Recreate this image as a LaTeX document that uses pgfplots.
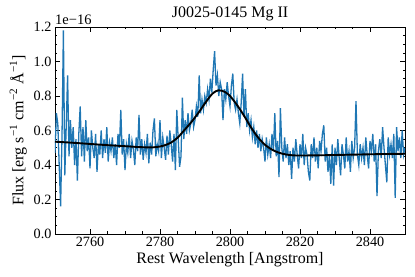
\documentclass[border=0pt]{standalone}
\usepackage{fontspec}
\setmainfont{Liberation Serif}
\usepackage{pgfplots}
\pgfplotsset{compat=1.18}
\definecolor{mplblue}{HTML}{1F77B4}
\begin{document}
\begin{tikzpicture}
\begin{axis}[
  scale only axis, width=350pt, height=207pt,
  xmin=2750, xmax=2850, ymin=0, ymax=1.2,
  xtick={2760,2780,2800,2820,2840}, minor x tick num=3,
  ytick={0,0.2,0.4,0.6,0.8,1.0,1.2}, minor y tick num=3,
  tick align=inside, tick pos=both,
  major tick length=5pt, minor tick length=2.5pt,
  every tick/.style={black, line width=0.7pt},
  axis line style={line width=0.8pt},
  /pgf/number format/assume math mode=true,
  xticklabel style={/pgf/number format/1000 sep={}, font=\fontsize{14.2}{16}\selectfont},
  yticklabel style={/pgf/number format/fixed, /pgf/number format/fixed zerofill, /pgf/number format/precision=1, font=\fontsize{14.2}{16}\selectfont},
  title={J0025-0145 Mg II},
  title style={font=\fontsize{16}{18}\selectfont, yshift=-3pt},
  xlabel={Rest Wavelength [Angstrom]},
  ylabel={Flux [erg s\textsuperscript{−1} cm\textsuperscript{−2} Å\textsuperscript{−1}]},
  label style={font=\fontsize{16}{18}\selectfont},
  xlabel style={yshift=2pt},
  clip mode=individual,
]
\addplot[mplblue, line width=1.3pt] coordinates {
(2750.0,0.47)(2750.4,0.70)(2750.8,0.64)(2751.2,0.40)(2751.6,0.16)(2752.0,0.56)(2752.4,1.18)(2752.8,0.34)(2753.2,0.62)(2753.6,0.92)
(2754.0,0.45)(2754.4,0.66)(2754.8,0.50)(2755.2,0.62)(2755.6,0.40)(2756.0,0.55)(2756.4,0.31)(2756.8,0.58)(2757.2,0.74)(2757.6,0.45)
(2758.0,0.62)(2758.4,0.42)(2758.8,0.66)(2759.2,0.48)(2759.6,0.56)(2760.0,0.38)(2760.4,0.60)(2760.8,0.50)(2761.2,0.44)(2761.6,0.58)
(2762.0,0.36)(2762.4,0.52)(2762.8,0.46)(2763.2,0.60)(2763.6,0.44)(2764.0,0.55)(2764.4,0.47)(2764.8,0.62)(2765.2,0.42)(2765.6,0.53)
(2766.0,0.48)(2766.4,0.56)(2766.8,0.44)(2767.2,0.52)(2767.6,0.40)(2768.0,0.58)(2768.4,0.50)(2768.8,0.72)(2769.2,0.46)(2769.6,0.55)
(2770.0,0.37)(2770.4,0.52)(2770.8,0.47)(2771.2,0.58)(2771.6,0.44)(2772.0,0.54)(2772.4,0.49)(2772.8,0.40)(2773.2,0.56)(2773.6,0.48)
(2774.0,0.69)(2774.4,0.46)(2774.8,0.55)(2775.2,0.43)(2775.6,0.52)(2776.0,0.47)(2776.4,0.58)(2776.8,0.41)(2777.2,0.53)(2777.6,0.46)
(2778.0,0.60)(2778.4,0.67)(2778.8,0.45)(2779.2,0.52)(2779.6,0.48)(2780.0,0.66)(2780.4,0.44)(2780.8,0.56)(2781.2,0.50)(2781.6,0.43)
(2782.0,0.57)(2782.4,0.46)(2782.8,0.60)(2783.2,0.52)(2783.6,0.42)(2784.0,0.58)(2784.4,0.37)(2784.8,0.72)(2785.2,0.55)(2785.6,0.39)
(2786.0,0.45)(2786.4,0.79)(2786.8,0.55)(2787.2,0.66)(2787.6,0.58)(2788.0,0.70)(2788.4,0.60)(2788.8,0.64)(2789.2,0.72)(2789.6,0.62)
(2790.0,0.66)(2790.4,0.74)(2790.8,0.68)(2791.2,0.92)(2791.6,0.70)(2792.0,0.78)(2792.4,0.72)(2792.8,0.80)(2793.2,0.76)(2793.6,0.84)
(2794.0,0.78)(2794.4,0.90)(2794.8,0.82)(2795.2,0.95)(2795.6,1.06)(2796.0,0.86)(2796.4,0.92)(2796.8,0.80)(2797.2,0.88)(2797.6,0.84)
(2798.0,0.66)(2798.4,0.84)(2798.8,0.78)(2799.2,0.88)(2799.6,0.80)(2800.0,0.74)(2800.4,0.86)(2800.8,0.93)(2801.2,0.76)(2801.6,0.72)
(2802.0,0.78)(2802.4,0.70)(2802.8,0.64)(2803.2,0.76)(2803.6,0.93)(2804.0,0.68)(2804.4,0.84)(2804.8,0.62)(2805.2,0.70)(2805.6,0.60)
(2806.0,0.66)(2806.4,0.56)(2806.8,0.62)(2807.2,0.52)(2807.6,0.60)(2808.0,0.50)(2808.4,0.58)(2808.8,0.48)(2809.2,0.55)(2809.6,0.50)
(2810.0,0.42)(2810.4,0.56)(2810.8,0.46)(2811.2,0.52)(2811.6,0.44)(2812.0,0.58)(2812.4,0.48)(2812.8,0.70)(2813.2,0.45)(2813.6,0.54)
(2814.0,0.33)(2814.4,0.73)(2814.8,0.50)(2815.2,0.42)(2815.6,0.56)(2816.0,0.44)(2816.4,0.52)(2816.8,0.40)(2817.2,0.48)(2817.6,0.32)
(2818.0,0.50)(2818.4,0.42)(2818.8,0.55)(2819.2,0.46)(2819.6,0.38)(2820.0,0.52)(2820.4,0.44)(2820.8,0.58)(2821.2,0.40)(2821.6,0.50)
(2822.0,0.46)(2822.4,0.36)(2822.8,0.31)(2823.2,0.52)(2823.6,0.44)(2824.0,0.56)(2824.4,0.42)(2824.8,0.50)(2825.2,0.38)(2825.6,0.54)
(2826.0,0.48)(2826.4,0.58)(2826.8,0.63)(2827.2,0.42)(2827.6,0.50)(2828.0,0.36)(2828.4,0.46)(2828.8,0.29)(2829.2,0.52)(2829.6,0.28)
(2830.0,0.50)(2830.4,0.40)(2830.8,0.55)(2831.2,0.44)(2831.6,0.34)(2832.0,0.52)(2832.4,0.46)(2832.8,0.38)(2833.2,0.56)(2833.6,0.42)
(2834.0,0.48)(2834.4,0.36)(2834.8,0.54)(2835.2,0.44)(2835.6,0.50)(2836.0,0.77)(2836.4,0.46)(2836.8,0.40)(2837.2,0.52)(2837.6,0.44)
(2838.0,0.50)(2838.4,0.40)(2838.8,0.56)(2839.2,0.46)(2839.6,0.38)(2840.0,0.54)(2840.4,0.48)(2840.8,0.58)(2841.2,0.42)(2841.6,0.52)
(2842.0,0.22)(2842.4,0.48)(2842.8,0.55)(2843.2,0.44)(2843.6,0.62)(2844.0,0.50)(2844.4,0.40)(2844.8,0.30)(2845.2,0.56)(2845.6,0.46)
(2846.0,0.52)(2846.4,0.44)(2846.8,0.58)(2847.2,0.21)(2847.6,0.62)(2848.0,0.48)(2848.4,0.56)(2848.8,0.44)(2849.2,0.60)(2849.6,0.46)
(2850.0,0.50)
};
\addplot[black, line width=1.9pt, smooth] coordinates {
(2750,0.535)(2755,0.529)(2760,0.522)(2765,0.515)(2770,0.509)(2774,0.504)(2777,0.502)(2779,0.504)(2781,0.512)(2783,0.528)(2785,0.558)(2787,0.603)(2789,0.650)(2791,0.703)(2793,0.762)(2795,0.814)(2796.7,0.833)(2798.5,0.824)(2800,0.800)(2802,0.748)(2804,0.686)(2806,0.618)(2808,0.560)(2810,0.517)(2812,0.489)(2814,0.471)(2816,0.461)(2818,0.456)(2820,0.455)(2825,0.456)(2830,0.458)(2835,0.460)(2840,0.462)(2845,0.464)(2850,0.465)
};
\end{axis}
\node[anchor=south west, inner sep=0pt, font=\fontsize{14.5}{16}\selectfont] at ([yshift=2pt]current axis.north west) {1e−16};
\pgfresetboundingbox
\path ([shift={(-55pt,-43pt)}]current axis.south west) rectangle ([shift={(10pt,27pt)}]current axis.north east);
\end{tikzpicture}
\end{document}
